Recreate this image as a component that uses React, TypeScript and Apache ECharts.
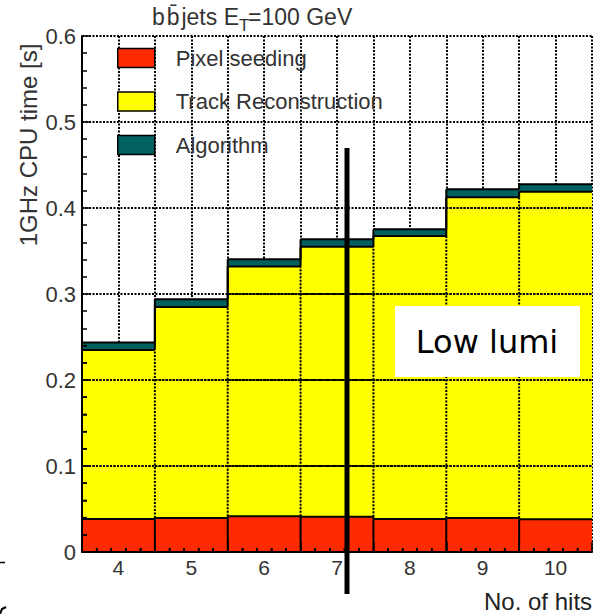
import React, { useEffect, useRef } from "react";
import * as echarts from "echarts";

const hits = [4, 5, 6, 7, 8, 9, 10];
const pixelSeeding = [0.0384, 0.0395, 0.0415, 0.041, 0.0384, 0.0395, 0.038];
const trackReco = [0.1966, 0.2455, 0.2905, 0.314, 0.329, 0.3729, 0.381];
const algorithm = [0.0085, 0.0088, 0.0083, 0.0086, 0.0078, 0.0093, 0.0085];
const seriesNames = ["Pixel seeding", "Track Reconstruction", "Algorithm"];
const yTicks = [0, 0.1, 0.2, 0.3, 0.4, 0.5, 0.6];

const FONT = "'Liberation Sans', Arial, sans-serif";
const RED = "#ff2a00";
const YELLOW = "#ffff00";
const TEAL = "#00615f";
const DASH = [2, 1.5];

export default function App() {
  const ref = useRef<HTMLDivElement>(null);
  useEffect(() => {
    document.body.style.margin = "0";
    if (!ref.current) return;
    const chart = echarts.init(ref.current, null, { renderer: "svg" });

    const lvl1 = pixelSeeding.slice();
    const lvl2 = pixelSeeding.map((v, i) => v + trackReco[i]);
    const lvl3 = lvl2.map((v, i) => v + algorithm[i]);
    const bases = [hits.map(() => 0), lvl1, lvl2];
    const tops = [lvl1, lvl2, lvl3];
    const colors = [RED, YELLOW, TEAL];

    const bandSeries = seriesNames.map((name, k) => ({
      type: "custom",
      name,
      xAxisIndex: 0,
      yAxisIndex: 0,
      z: 2,
      itemStyle: { color: colors[k], borderColor: "#000", borderWidth: 1.5 },
      encode: { x: 0, y: [1, 2] },
      data: hits.map((h, i) => [h, bases[k][i], tops[k][i]]),
      renderItem: (params: any, api: any) => {
        const x = api.value(0);
        const b = api.value(1);
        const t = api.value(2);
        const p0 = api.coord([x - 0.5, t]);
        const p1 = api.coord([x + 0.5, b]);
        return {
          type: "rect",
          shape: { x: p0[0], y: p0[1], width: p1[0] - p0[0], height: p1[1] - p0[1] },
          style: { fill: colors[k] },
        };
      },
    }));

    const yMinor: number[] = [];
    for (let j = 0; j < yTicks.length - 1; j++) {
      for (let m = 1; m < 5; m++) yMinor.push(yTicks[j] + ((yTicks[j + 1] - yTicks[j]) * m) / 5);
    }

    const outlineSeries = {
      type: "custom",
      name: "outline",
      xAxisIndex: 0,
      yAxisIndex: 0,
      z: 3,
      encode: { x: 0 },
      data: hits.map((h) => [h]),
      renderItem: (params: any, api: any) => {
        const i = params.dataIndex;
        const x = hits[i];
        const children: any[] = [];
        const solid = { stroke: "#000", lineWidth: 2 };
        const dotted = { stroke: "#000", lineWidth: 2, lineDash: DASH };
        const tick = { stroke: "#000", lineWidth: 1.5 };
        const seg = (xa: number, ya: number, xb: number, yb: number, st: any) => {
          const a = api.coord([xa, ya]);
          const b = api.coord([xb, yb]);
          children.push({ type: "line", shape: { x1: a[0], y1: a[1], x2: b[0], y2: b[1] }, style: st });
        };
        yTicks.forEach((v) => {
          if (v > 0 && v < lvl2[i]) seg(x - 0.5, v, x + 0.5, v, dotted);
        });
        for (let m = 1; m < 5; m++) {
          const p = api.coord([x - 0.5 + m * 0.2, 0]);
          children.push({ type: "line", shape: { x1: p[0], y1: p[1], x2: p[0], y2: p[1] - 4 }, style: tick });
        }
        if (i === 0) {
          yTicks.forEach((v) => {
            if (v > 0 && v < lvl3[0]) {
              const p = api.coord([x - 0.5, v]);
              children.push({ type: "line", shape: { x1: p[0], y1: p[1], x2: p[0] + 8, y2: p[1] }, style: tick });
            }
          });
          yMinor.forEach((v) => {
            if (v < lvl3[0]) {
              const p = api.coord([x - 0.5, v]);
              children.push({ type: "line", shape: { x1: p[0], y1: p[1], x2: p[0] + 5, y2: p[1] }, style: tick });
            }
          });
        }
        [lvl1, lvl2, lvl3].forEach((L) => seg(x - 0.5, L[i], x + 0.5, L[i], solid));
        if (i === 0) seg(x - 0.5, 0, x - 0.5, lvl3[0], solid);
        if (i < hits.length - 1) {
          const xe = x + 0.5;
          [lvl1, lvl2, lvl3].forEach((L) => seg(xe, L[i], xe, L[i + 1], solid));
          seg(xe, 0, xe, Math.min(lvl1[i], lvl1[i + 1]), solid);
          seg(xe, Math.max(lvl1[i], lvl1[i + 1]), xe, Math.min(lvl2[i], lvl2[i + 1]), dotted);
        }
        return { type: "group", children };
      },
    };

    const dots = { color: "#000", width: 2, type: DASH as any };

    chart.setOption({
      animation: false,
      textStyle: { fontFamily: FONT },
      grid: { left: 82, top: 36, width: 517, height: 516, containLabel: false },
      legend: {
        data: seriesNames,
        orient: "vertical",
        left: 117,
        top: 47,
        padding: 0,
        itemWidth: 37,
        itemHeight: 19,
        itemGap: 21.5,
        icon: "rect",
        selectedMode: false,
        itemStyle: { borderColor: "#000", borderWidth: 1.5 },
        textStyle: { fontSize: 22, lineHeight: 19, color: "#333", fontFamily: FONT, padding: [0, 0, 0, 16] },
      },
      xAxis: [
        {
          type: "value",
          position: "bottom",
          min: 3.5,
          max: 10.5,
          interval: 1,
          z: 10,
          axisLine: { show: true, onZero: false, lineStyle: { color: "#000", width: 2 } },
          axisTick: { show: true, inside: true, length: 10, lineStyle: { color: "#000", width: 1.5 } },
          minorTick: { show: true, splitNumber: 5, length: 4, lineStyle: { color: "#000", width: 1.5 } },
          axisLabel: { show: false },
          splitLine: { show: false },
        },
        {
          type: "value",
          position: "bottom",
          min: 3.5,
          max: 10.5,
          interval: 0.5,
          z: 0,
          axisLine: { show: false },
          axisTick: { show: false },
          axisLabel: {
            show: true,
            fontSize: 21,
            color: "#333",
            margin: 5,
            fontFamily: FONT,
            formatter: (v: number) => (hits.includes(v) ? String(v) : ""),
          },
          splitLine: { show: true, lineStyle: dots },
        },
      ],
      yAxis: {
        type: "value",
        min: yTicks[0],
        max: yTicks[yTicks.length - 1],
        interval: 0.1,
        z: 10,
        axisLine: { show: true, lineStyle: { color: "#000", width: 2 } },
        axisTick: { show: true, inside: true, length: 8, lineStyle: { color: "#000", width: 1.5 } },
        minorTick: { show: true, splitNumber: 5, length: 5, lineStyle: { color: "#000", width: 1.5 } },
        axisLabel: {
          fontSize: 22,
          color: "#333",
          margin: 6,
          fontFamily: FONT,
          formatter: (v: number) => (v === 0 ? "0" : v.toFixed(1)),
        },
        splitLine: { show: true, lineStyle: dots },
      },
      graphic: [
        {
          type: "text",
          x: 28,
          y: 145,
          rotation: Math.PI / 2,
          style: {
            text: "1GHz CPU time [s]",
            fontSize: 24,
            fontFamily: FONT,
            fill: "#333",
            textAlign: "center",
            textVerticalAlign: "middle",
          },
        },
        {
          type: "text",
          x: 239,
          y: 28,
          style: {
            text: "b\u200Ab\u0304\u200Ajets E",
            fontSize: 23,
            fontFamily: FONT,
            fill: "#333",
            textAlign: "right",
            textVerticalAlign: "bottom",
          },
        },
        {
          type: "text",
          x: 239,
          y: 34,
          style: { text: "T", fontSize: 17, fontFamily: FONT, fill: "#333", textAlign: "left", textVerticalAlign: "bottom" },
        },
        {
          type: "text",
          x: 248,
          y: 28,
          style: { text: "=100 GeV", fontSize: 23, fontFamily: FONT, fill: "#333", textAlign: "left", textVerticalAlign: "bottom" },
        },
        {
          type: "text",
          x: 484,
          y: 613,
          style: { text: "No. of hits", fontSize: 24, fontFamily: FONT, fill: "#222", textAlign: "left", textVerticalAlign: "bottom" },
        },
        {
          type: "rect",
          x: 395,
          y: 306,
          shape: { width: 185, height: 71 },
          style: { fill: "#fff" },
          z: 100,
        },
        {
          type: "text",
          x: 487,
          y: 342,
          z: 101,
          style: {
            text: "Low lumi",
            fontSize: 32,
            fontFamily: "'Comic Sans MS', 'DejaVu Sans', sans-serif",
            fill: "#000",
            textAlign: "center",
            textVerticalAlign: "middle",
          },
        },
        {
          type: "line",
          z: 102,
          shape: { x1: 347, y1: 148, x2: 347, y2: 594 },
          style: { stroke: "#000", lineWidth: 5 },
        },
        {
          type: "line",
          shape: { x1: 0, y1: 562.5, x2: 5, y2: 562.5 },
          style: { stroke: "#000", lineWidth: 1.5 },
        },
        {
          type: "polyline",
          shape: { points: [[0, 614], [2, 609], [6, 607]] },
          style: { stroke: "#000", lineWidth: 2, fill: "none" },
        },
      ],
      series: [...bandSeries, outlineSeries],
    });
    return () => chart.dispose();
  }, []);
  return <div ref={ref} style={{ width: 595, height: 614 }} />;
}
